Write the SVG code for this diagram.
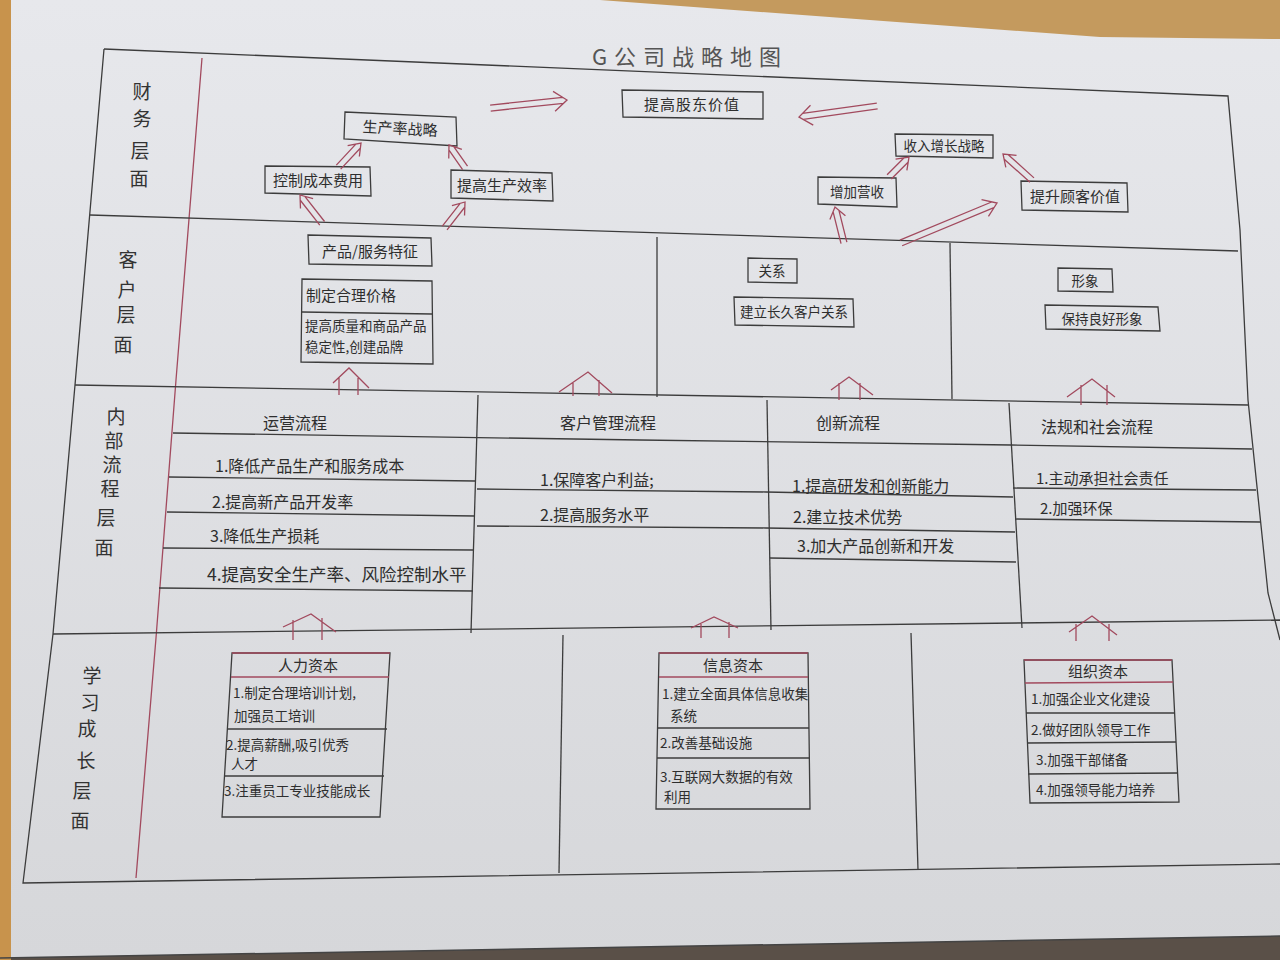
<svg xmlns="http://www.w3.org/2000/svg" width="1280" height="960" viewBox="0 0 1280 960">
<defs>
<linearGradient id="paper" x1="0" y1="0" x2="0" y2="1">
<stop offset="0" stop-color="#e7e8ec"/>
<stop offset="1" stop-color="#d6d7da"/>
</linearGradient>
<style>
.ln{stroke:#3c3c3c;stroke-width:1.3;fill:none}
.rd{stroke:#a24a5e;stroke-width:1.3;fill:none}
.bx{stroke:#3c3c3c;stroke-width:1.3;fill:none}
.t{font-family:"Noto Sans CJK SC","Noto Sans",sans-serif;fill:#2e2e2e;font-size:15px}
.c{text-anchor:middle}
.lab{font-family:"Noto Sans CJK SC","Noto Sans",sans-serif;fill:#333;font-size:19px;text-anchor:middle}
.ttl{font-family:"Noto Sans CJK SC","Noto Sans",sans-serif;fill:#555;font-size:22px;letter-spacing:7px;text-anchor:middle}
.s{font-size:13.5px}
.m{font-size:16px}
</style>
</defs>
<!-- background -->
<rect width="1280" height="960" fill="#5a5048"/>
<polygon points="0,0 1280,0 1280,936 0,958" fill="url(#paper)"/>
<polygon points="600,0 1280,0 1280,39 1100,37" fill="#c49a5e"/>
<rect x="0" y="0" width="11" height="960" fill="#c8934c"/>
<path d="M0,958 L1280,936" stroke="#444" stroke-width="1.5"/>

<!-- frame -->
<g id="frame">
<path class="ln" d="M104,49 L1228,96 L1240,230 L1248,400 L1268,593 L1280,640"/>
<path class="ln" d="M104,49 L75,385 L53,634 L23,883 L1280,864"/>
<path class="rd" d="M202,58 L176,380 L156,638 L136,878"/>
<path class="ln" d="M90,215 L1238,251"/>
<path class="ln" d="M75,385 L1248,405"/>
<path class="ln" d="M53,634 L1280,620"/>
<path class="ln" d="M657,237 L657,397"/>
<path class="ln" d="M950,243 L952,399"/>
<path class="ln" d="M478,395 L471,633"/>
<path class="ln" d="M767,400 L771,630"/>
<path class="ln" d="M1009,403 L1022,628"/>
<path class="ln" d="M173,433 L640,440 L1011,445 L1252,449"/>
<path class="ln" d="M169,477 L475,481"/>
<path class="ln" d="M167,512 L475,516"/>
<path class="ln" d="M163,548 L473,550"/>
<path class="ln" d="M159,588 L473,591"/>
<path class="ln" d="M477,489 L766,492 L1013,497"/>
<path class="ln" d="M477,526 L766,528 L1015,532"/>
<path class="ln" d="M770,558 L1016,562"/>
<path class="ln" d="M1013,488 L1256,490"/>
<path class="ln" d="M1015,519 L1260,522"/>
<path class="ln" d="M563,635 L559,873"/>
<path class="ln" d="M911,633 L918,870"/>
</g>

<text class="ttl" x="690" y="65">G公司战略地图</text>

<!-- layer labels -->
<g id="label-financial">
<text class="lab"><tspan x="142" y="99">财</tspan><tspan x="142" y="126">务</tspan><tspan x="140" y="158">层</tspan><tspan x="139" y="186">面</tspan></text>
</g>
<g id="label-customer">
<text class="lab"><tspan x="128" y="267">客</tspan><tspan x="127" y="297">户</tspan><tspan x="126" y="322">层</tspan><tspan x="123" y="352">面</tspan></text>
</g>
<g id="label-internal">
<text class="lab"><tspan x="116" y="424">内</tspan><tspan x="114" y="448">部</tspan><tspan x="112" y="472">流</tspan><tspan x="110" y="496">程</tspan><tspan x="106" y="525">层</tspan><tspan x="104" y="555">面</tspan></text>
</g>
<g id="label-learning">
<text class="lab"><tspan x="92" y="683">学</tspan><tspan x="90" y="710">习</tspan><tspan x="87" y="736">成</tspan><tspan x="86" y="768">长</tspan><tspan x="82" y="798">层</tspan><tspan x="80" y="828">面</tspan></text>
</g>

<!-- financial nodes -->
<g id="shareholder-value">
<path class="bx" d="M622,90 L763,92 L763,119 L623,117 Z"/>
<text class="t c" x="692" y="110" letter-spacing="1">提高股东价值</text>
</g>
<g id="productivity-strategy">
<path class="bx" d="M345,112 L456,117 L457,146 L344,139 Z" stroke="#6a3a44"/>
<text class="t c" x="400" y="134" transform="rotate(3 400 130)">生产率战略</text>
</g>
<g id="control-cost">
<path class="bx" d="M265,166 L370,167 L371,196 L265,193 Z"/>
<text class="t c" x="318" y="186">控制成本费用</text>
</g>
<g id="efficiency">
<path class="bx" d="M451,170 L552,173 L553,201 L451,198 Z"/>
<text class="t c" x="502" y="191">提高生产效率</text>
</g>
<g id="revenue-growth">
<path class="bx" d="M895,134 L993,135 L993,158 L896,156 Z"/>
<text class="t c s" x="944" y="151">收入增长战略</text>
</g>
<g id="increase-revenue">
<path class="bx" d="M818,177 L896,178 L897,207 L818,204 Z"/>
<text class="t c s" x="857" y="197">增加营收</text>
</g>
<g id="customer-value">
<path class="bx" d="M1021,181 L1127,183 L1128,212 L1022,210 Z"/>
<text class="t c" x="1075" y="202">提升顾客价值</text>
</g>

<!-- customer nodes -->
<g id="product-feature">
<path class="bx" d="M308,235 L431,238 L432,266 L309,264 Z" stroke="#7a3c48"/>
<text class="t c" x="370" y="257">产品/服务特征</text>
</g>
<g id="product-items">
<path class="bx" d="M302,279 L432,281 L433,364 L301,362 Z"/>
<path class="bx" d="M302,312 L432,314"/>
<text class="t" x="306" y="301">制定合理价格</text>
<text class="t s"><tspan x="305" y="331">提高质量和商品产品</tspan><tspan x="305" y="352">稳定性,创建品牌</tspan></text>
</g>
<g id="relationship">
<path class="bx" d="M748,258 L797,259 L797,283 L748,282 Z"/>
<text class="t c s" x="772" y="276">关系</text>
<path class="bx" d="M734,297 L853,299 L854,327 L735,325 Z"/>
<text class="t c s" x="794" y="317">建立长久客户关系</text>
</g>
<g id="image">
<path class="bx" d="M1058,268 L1112,269 L1113,292 L1058,291 Z"/>
<text class="t c s" x="1085" y="286">形象</text>
<path class="bx" d="M1045,305 L1158,307 L1160,331 L1046,329 Z"/>
<text class="t c s" x="1102" y="324">保持良好形象</text>
</g>

<!-- internal process nodes -->
<g id="operations">
<text class="t c m" x="295" y="429">运营流程</text>
<text class="t m"><tspan x="215" y="472">1.降低产品生产和服务成本</tspan><tspan x="212" y="508">2.提高新产品开发率</tspan><tspan x="210" y="542">3.降低生产损耗</tspan><tspan x="207" y="581" font-size="17.5">4.提高安全生产率、风险控制水平</tspan></text>
</g>
<g id="customer-management">
<text class="t c m" x="608" y="429">客户管理流程</text>
<text class="t m"><tspan x="540" y="486">1.保障客户利益;</tspan><tspan x="540" y="521">2.提高服务水平</tspan></text>
</g>
<g id="innovation">
<text class="t c m" x="848" y="429">创新流程</text>
<text class="t m"><tspan x="792" y="492">1.提高研发和创新能力</tspan><tspan x="793" y="523">2.建立技术优势</tspan><tspan x="797" y="552">3.加大产品创新和开发</tspan></text>
</g>
<g id="regulatory">
<text class="t c m" x="1097" y="433">法规和社会流程</text>
<text class="t"><tspan x="1036" y="484">1.主动承担社会责任</tspan><tspan x="1040" y="514">2.加强环保</tspan></text>
</g>

<!-- learning nodes -->
<g id="human-capital">
<path class="bx" d="M232,653 L390,653 L380,817 L222,817 Z"/>
<path class="rd" d="M232,653 L390,653"/>
<path class="rd" d="M231,677 L389,677"/>
<path class="bx" d="M228,729 L387,729"/>
<path class="bx" d="M225,776 L384,776"/>
<text class="t c" x="308" y="671">人力资本</text>
<text class="t s"><tspan x="233" y="698">1.制定合理培训计划,</tspan><tspan x="234" y="721">加强员工培训</tspan><tspan x="226" y="750">2.提高薪酬,吸引优秀</tspan><tspan x="231" y="769">人才</tspan><tspan x="224" y="796">3.注重员工专业技能成长</tspan></text>
</g>
<g id="information-capital">
<path class="bx" d="M659,653 L808,653 L810,809 L656,809 Z"/>
<path class="rd" d="M659,653 L808,653"/>
<path class="rd" d="M659,677 L808,677"/>
<path class="bx" d="M658,728 L809,728"/>
<path class="bx" d="M657,758 L809,758"/>
<text class="t c" x="733" y="671">信息资本</text>
<text class="t s"><tspan x="662" y="699">1.建立全面具体信息收集</tspan><tspan x="670" y="721">系统</tspan><tspan x="660" y="748">2.改善基础设施</tspan><tspan x="660" y="782">3.互联网大数据的有效</tspan><tspan x="664" y="802">利用</tspan></text>
</g>
<g id="organization-capital">
<path class="bx" d="M1024,660 L1172,660 L1179,802 L1030,803 Z"/>
<path class="rd" d="M1024,660 L1172,660"/>
<path class="rd" d="M1025,683 L1173,682"/>
<path class="bx" d="M1026,713 L1175,713"/>
<path class="bx" d="M1027,743 L1176,742"/>
<path class="bx" d="M1028,774 L1178,773"/>
<text class="t c" x="1098" y="677">组织资本</text>
<text class="t s"><tspan x="1031" y="704">1.加强企业文化建设</tspan><tspan x="1031" y="735">2.做好团队领导工作</tspan><tspan x="1036" y="765">3.加强干部储备</tspan><tspan x="1036" y="795">4.加强领导能力培养</tspan></text>
</g>

<!-- connectors -->
<g id="connectors" class="rd">
<path transform="translate(567,100) rotate(-6)" d="M-77,-3 L-4,-3 M-77,3 L-4,3 M-13,-10 L0,0 L-13,10"/>
<path transform="translate(799,117) rotate(172)" d="M-79,-3 L-4,-3 M-79,3 L-4,3 M-13,-10 L0,0 L-13,10"/>
<path transform="translate(361,143) rotate(-47)" d="M-33,-3 L-4,-3 M-33,3 L-4,3 M-11,-8 L0,0 L-11,8"/>
<path transform="translate(449,145) rotate(-125)" d="M-28,-3 L-4,-3 M-28,3 L-4,3 M-11,-8 L0,0 L-11,8"/>
<path transform="translate(300,195) rotate(-128)" d="M-36,-3 L-4,-3 M-36,3 L-4,3 M-11,-8 L0,0 L-11,8"/>
<path transform="translate(465,202) rotate(-52)" d="M-33,-3 L-4,-3 M-33,3 L-4,3 M-11,-8 L0,0 L-11,8"/>
<path transform="translate(909,157) rotate(-45)" d="M-28,-3 L-4,-3 M-28,3 L-4,3 M-11,-8 L0,0 L-11,8"/>
<path transform="translate(1003,154) rotate(-138)" d="M-39,-3 L-4,-3 M-39,3 L-4,3 M-11,-8 L0,0 L-11,8"/>
<path transform="translate(835,207) rotate(-104)" d="M-37,-3 L-4,-3 M-37,3 L-4,3 M-11,-8 L0,0 L-11,8"/>
<path transform="translate(997,203) rotate(-22.6)" d="M-104,-3 L-4,-3 M-104,3 L-4,3 M-13,-9 L0,0 L-13,9"/>
<path d="M333,383 L349,368 L369,388 M339,378 L339,395 M358,378 L358,395"/>
<path d="M559,392 L588,372 L612,393 M573,383 L573,396 M599,380 L599,396"/>
<path d="M831,390 L849,377 L873,395 M839,383 L839,400 M860,383 L860,400"/>
<path d="M1067,397 L1092,379 L1115,397 M1081,385 L1081,405 M1107,385 L1107,405"/>
<path d="M283,627 L311,614 L336,632 M293,620 L293,640 M322,618 L322,640"/>
<path d="M691,628 L714,617 L738,628 M701,624 L701,638 M729,622 L729,638"/>
<path d="M1069,632 L1092,616 L1117,635 M1076,624 L1076,641 M1109,624 L1109,641"/>
</g>
</svg>
